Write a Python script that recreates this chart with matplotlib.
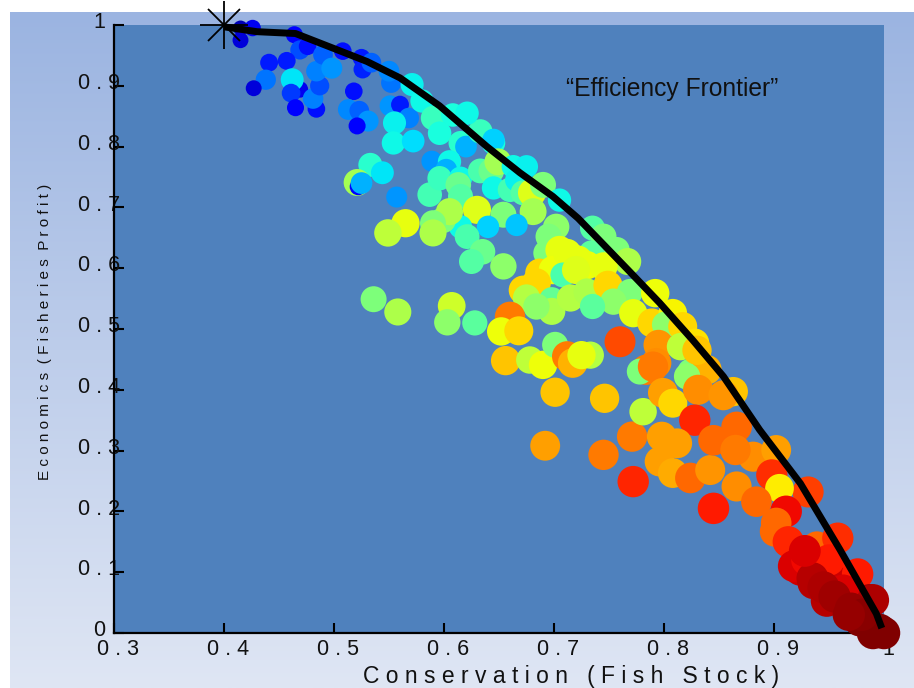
import numpy as np
import matplotlib
matplotlib.use("Agg")
import matplotlib.pyplot as plt
from matplotlib.transforms import ScaledTranslation

# ---------------- data ----------------
conservation = [
    0.415, 0.415, 0.426, 0.464, 0.469, 0.476, 0.441, 0.457, 0.438, 0.427,
    0.469, 0.462, 0.461, 0.465, 0.484, 0.481, 0.487, 0.484, 0.490, 0.498,
    0.508, 0.525, 0.526, 0.534, 0.518, 0.513, 0.523, 0.531, 0.521, 0.552,
    0.550, 0.551, 0.560, 0.568, 0.555, 0.554, 0.572, 0.571, 0.580, 0.590,
    0.589, 0.533, 0.544, 0.521, 0.522, 0.525, 0.557, 0.587,
    0.596, 0.608, 0.615, 0.620, 0.633, 0.645, 0.621, 0.645, 0.605, 0.602,
    0.596, 0.615, 0.613, 0.615, 0.633, 0.643, 0.649, 0.663, 0.675, 0.645,
    0.660, 0.666, 0.672, 0.680, 0.690, 0.705, 0.630, 0.654, 0.681, 0.666,
    0.640, 0.615, 0.621, 0.599, 0.605, 0.590, 0.590, 0.565, 0.549, 0.702,
    0.695, 0.693, 0.705, 0.635, 0.625, 0.654, 0.687, 0.699, 0.712, 0.735,
    0.745, 0.757, 0.767, 0.734, 0.715, 0.730, 0.745, 0.722, 0.708, 0.720,
    0.684, 0.672, 0.675, 0.698, 0.698, 0.715, 0.684, 0.730, 0.749, 0.769,
    0.754, 0.735, 0.772, 0.792, 0.789, 0.808, 0.801, 0.817, 0.828, 0.795,
    0.760, 0.815, 0.793, 0.784, 0.778, 0.824, 0.839, 0.830,
    0.536, 0.558, 0.607, 0.603, 0.628, 0.660, 0.652, 0.668, 0.656, 0.678,
    0.690, 0.701, 0.712, 0.717, 0.701, 0.692, 0.733, 0.725, 0.746, 0.745,
    0.772, 0.771, 0.798, 0.781, 0.790, 0.799, 0.808, 0.821, 0.831, 0.828,
    0.812, 0.796, 0.808, 0.824, 0.842, 0.845, 0.845, 0.863, 0.854, 0.866,
    0.881, 0.902, 0.865, 0.866, 0.898, 0.931, 0.905, 0.911, 0.884, 0.902,
    0.901, 0.913, 0.939, 0.958, 0.951, 0.924, 0.918, 0.936, 0.960, 0.976,
    0.987, 0.963, 0.948, 0.963, 0.990, 0.978, 0.996, 1.000, 0.990,
    0.930, 0.950, 0.935, 0.945, 0.955, 0.970, 0.980, 0.928, 0.968,
]
economics = [
    0.995, 0.975, 0.995, 0.984, 0.959, 0.965, 0.938, 0.941, 0.910, 0.896,
    0.894, 0.910, 0.888, 0.864, 0.862, 0.879, 0.900, 0.924, 0.951, 0.929,
    0.957, 0.946, 0.927, 0.938, 0.891, 0.861, 0.859, 0.842, 0.834, 0.905,
    0.924, 0.867, 0.869, 0.847, 0.839, 0.806, 0.809, 0.902, 0.875, 0.847,
    0.776, 0.770, 0.757, 0.741, 0.734, 0.740, 0.717, 0.721,
    0.822, 0.852, 0.806, 0.800, 0.825, 0.806, 0.855, 0.811, 0.775, 0.762,
    0.748, 0.748, 0.737, 0.718, 0.760, 0.760, 0.775, 0.767, 0.767, 0.732,
    0.729, 0.745, 0.724, 0.724, 0.737, 0.712, 0.696, 0.688, 0.693, 0.671,
    0.668, 0.668, 0.652, 0.679, 0.693, 0.674, 0.658, 0.674, 0.658, 0.668,
    0.652, 0.625, 0.630, 0.627, 0.611, 0.603, 0.592, 0.597, 0.625, 0.666,
    0.652, 0.630, 0.611, 0.625, 0.619, 0.605, 0.603, 0.614, 0.589, 0.597,
    0.576, 0.564, 0.551, 0.548, 0.529, 0.551, 0.537, 0.561, 0.572, 0.561,
    0.545, 0.537, 0.526, 0.559, 0.510, 0.526, 0.507, 0.504, 0.477, 0.474,
    0.479, 0.471, 0.444, 0.433, 0.430, 0.430, 0.433, 0.465,
    0.549, 0.528, 0.538, 0.511, 0.510, 0.520, 0.496, 0.497, 0.448, 0.449,
    0.441, 0.474, 0.455, 0.444, 0.396, 0.308, 0.457, 0.457, 0.386, 0.293,
    0.249, 0.323, 0.323, 0.364, 0.438, 0.395, 0.378, 0.422, 0.400, 0.350,
    0.312, 0.282, 0.263, 0.255, 0.268, 0.317, 0.205, 0.397, 0.391, 0.339,
    0.290, 0.301, 0.301, 0.241, 0.260, 0.232, 0.238, 0.200, 0.216, 0.181,
    0.167, 0.150, 0.142, 0.156, 0.107, 0.104, 0.110, 0.082, 0.082, 0.097,
    0.054, 0.054, 0.053, 0.070, 0.054, 0.021, 0.005, 0.000, 0.000,
    0.120, 0.120, 0.090, 0.075, 0.060, 0.040, 0.030, 0.135, 0.030,
]
score = [
    0.05, 0.08, 0.10, 0.12, 0.20, 0.14, 0.15, 0.15, 0.24, 0.08,
    0.10, 0.35, 0.18, 0.12, 0.14, 0.25, 0.20, 0.25, 0.22, 0.27,
    0.14, 0.15, 0.16, 0.22, 0.14, 0.26, 0.22, 0.27, 0.12, 0.24,
    0.26, 0.27, 0.15, 0.25, 0.36, 0.37, 0.34, 0.36, 0.37, 0.42,
    0.27, 0.40, 0.35, 0.55, 0.12, 0.30, 0.27, 0.43,
    0.38, 0.38, 0.40, 0.30, 0.42, 0.38, 0.37, 0.33, 0.37, 0.30,
    0.42, 0.37, 0.48, 0.45, 0.44, 0.48, 0.55, 0.37, 0.36, 0.37,
    0.43, 0.36, 0.45, 0.62, 0.50, 0.37, 0.62, 0.50, 0.55, 0.32,
    0.33, 0.37, 0.44, 0.50, 0.56, 0.50, 0.56, 0.63, 0.58, 0.52,
    0.50, 0.50, 0.63, 0.48, 0.45, 0.52, 0.68, 0.64, 0.63, 0.45,
    0.50, 0.50, 0.56, 0.46, 0.63, 0.64, 0.63, 0.63, 0.44, 0.62,
    0.68, 0.68, 0.57, 0.47, 0.56, 0.57, 0.52, 0.56, 0.68, 0.50,
    0.52, 0.46, 0.63, 0.64, 0.68, 0.65, 0.52, 0.68, 0.67, 0.75,
    0.83, 0.58, 0.76, 0.78, 0.50, 0.50, 0.72, 0.70,
    0.50, 0.56, 0.60, 0.52, 0.46, 0.78, 0.64, 0.68, 0.70, 0.58,
    0.64, 0.50, 0.78, 0.72, 0.70, 0.74, 0.57, 0.63, 0.70, 0.78,
    0.87, 0.78, 0.74, 0.58, 0.78, 0.74, 0.68, 0.52, 0.76, 0.87,
    0.74, 0.74, 0.73, 0.80, 0.75, 0.80, 0.88, 0.70, 0.75, 0.80,
    0.76, 0.74, 0.78, 0.76, 0.86, 0.84, 0.66, 0.90, 0.80, 0.80,
    0.80, 0.87, 0.80, 0.86, 0.87, 0.93, 0.92, 0.95, 0.93, 0.88,
    0.97, 0.96, 0.95, 0.92, 0.96, 1.00, 1.00, 1.00, 1.00,
    0.90, 0.88, 0.95, 0.96, 0.97, 0.98, 0.99, 0.92, 0.98,
]

frontier_x = [0.400, 0.430, 0.465, 0.499, 0.530, 0.560, 0.596, 0.639, 0.669,
              0.699, 0.722, 0.769, 0.796, 0.826, 0.854, 0.887, 0.924,
              0.960, 0.993, 0.998]
frontier_y = [0.997, 0.989, 0.986, 0.962, 0.940, 0.913, 0.867, 0.800, 0.757,
              0.718, 0.682, 0.594, 0.543, 0.482, 0.422, 0.334, 0.246,
              0.137, 0.032, 0.008]

optimum_x = [0.4]
optimum_y = [1.0]

xticks = [0.3, 0.4, 0.5, 0.6, 0.7, 0.8, 0.9, 1.0]
xticklabels = ["0 . 3", "0 . 4", "0 . 5", "0 . 6", "0 . 7", "0 . 8", "0 . 9", "1"]
yticks = [0.0, 0.1, 0.2, 0.3, 0.4, 0.5, 0.6, 0.7, 0.8, 0.9, 1.0]
yticklabels = ["0", "0 . 1", "0 . 2", "0 . 3", "0 . 4", "0 . 5", "0 . 6",
               "0 . 7", "0 . 8", "0 . 9", "1"]

xlabel = "C o n s e r v a t i o n   ( F i s h   S t o c k )"
ylabel = "E c o n o m i c s  ( F i s h e r i e s  P r o f i t )"
annotation = "\u201cEfficiency Frontier\u201d"

# ---------------- figure ----------------
W, H = 914, 688
DPI = 100
fig = plt.figure(figsize=(W / DPI, H / DPI), dpi=DPI)
fig.patch.set_facecolor("white")

font = ["Liberation Sans", "DejaVu Sans"]

# gradient slide background
bg = fig.add_axes([10 / W, 0, 1 - 10 / W, (H - 12) / H], zorder=0)
g = np.linspace(0, 1, 256)[:, None, None]
top = np.array([155, 180, 225]) / 255.0
bot = np.array([223, 230, 244]) / 255.0
img = top[None, None, :] * (1 - g) + bot[None, None, :] * g
bg.imshow(img, aspect="auto", extent=[0, 1, 0, 1], interpolation="bilinear")
bg.axis("off")

ax = fig.add_axes([114 / W, (H - 633) / H, 770 / W, 608 / H], zorder=1)
ax.set_facecolor("#4f81bd")
ax.set_xlim(0.3, 1.0)
ax.set_ylim(0.0, 1.0)

c = np.asarray(score)
diam_px = 13.5 + 31 * c - 12 * c ** 2
sizes = (diam_px * 72.0 / DPI) ** 2
ax.scatter(conservation, economics, c=score, cmap="jet", vmin=0, vmax=1,
           s=sizes, edgecolors="none", zorder=3, clip_on=False)

ax.plot(frontier_x, frontier_y, color="black", lw=5, zorder=4,
        solid_joinstyle="round", solid_capstyle="butt", clip_on=False)

ax.plot(optimum_x, optimum_y, marker="+", markersize=34.5, mew=1.3,
        color="black", ls="none", zorder=5, clip_on=False)
ax.plot(optimum_x, optimum_y, marker="x", markersize=23, mew=1.3,
        color="black", ls="none", zorder=5, clip_on=False)

for s in ["top", "right"]:
    ax.spines[s].set_visible(False)
for s in ["left", "bottom"]:
    ax.spines[s].set_linewidth(1.6)
    ax.spines[s].set_color("black")
    ax.spines[s].set_zorder(2.5)

ax.set_xticks(xticks)
ax.set_xticklabels(xticklabels, family=font, fontsize=15.5, color="#111111")
ax.set_yticks(yticks)
ax.set_yticklabels(yticklabels, family=font, fontsize=15.5, color="#111111")
ax.tick_params(axis="both", direction="in", length=7.2, width=1.5, colors="black")
ax.tick_params(axis="x", pad=4.3, labelcolor="#111111")
ax.tick_params(axis="y", pad=10.8, labelcolor="#111111")

for t in ax.get_yticklabels():
    t.set_horizontalalignment("center")
    t.set_transform(t.get_transform() + ScaledTranslation(0, 3.4 / 72, fig.dpi_scale_trans))
for t in ax.get_xticklabels():
    t.set_transform(t.get_transform() + ScaledTranslation(4 / DPI, 0, fig.dpi_scale_trans))

fig.text(571 / W, (H - 677) / H, xlabel, family=font, fontsize=16.5,
         color="#111111", ha="center", va="center")
fig.text(45 / W, (H - 332) / H, ylabel, family=font, fontsize=11,
         color="#111111", ha="center", va="center", rotation=90)

fig.text(672 / W, (H - 88.6) / H, annotation, family=font,
         fontsize=17.7, color="#111111", ha="center", va="center")

fig.savefig("out.png", dpi=DPI)
